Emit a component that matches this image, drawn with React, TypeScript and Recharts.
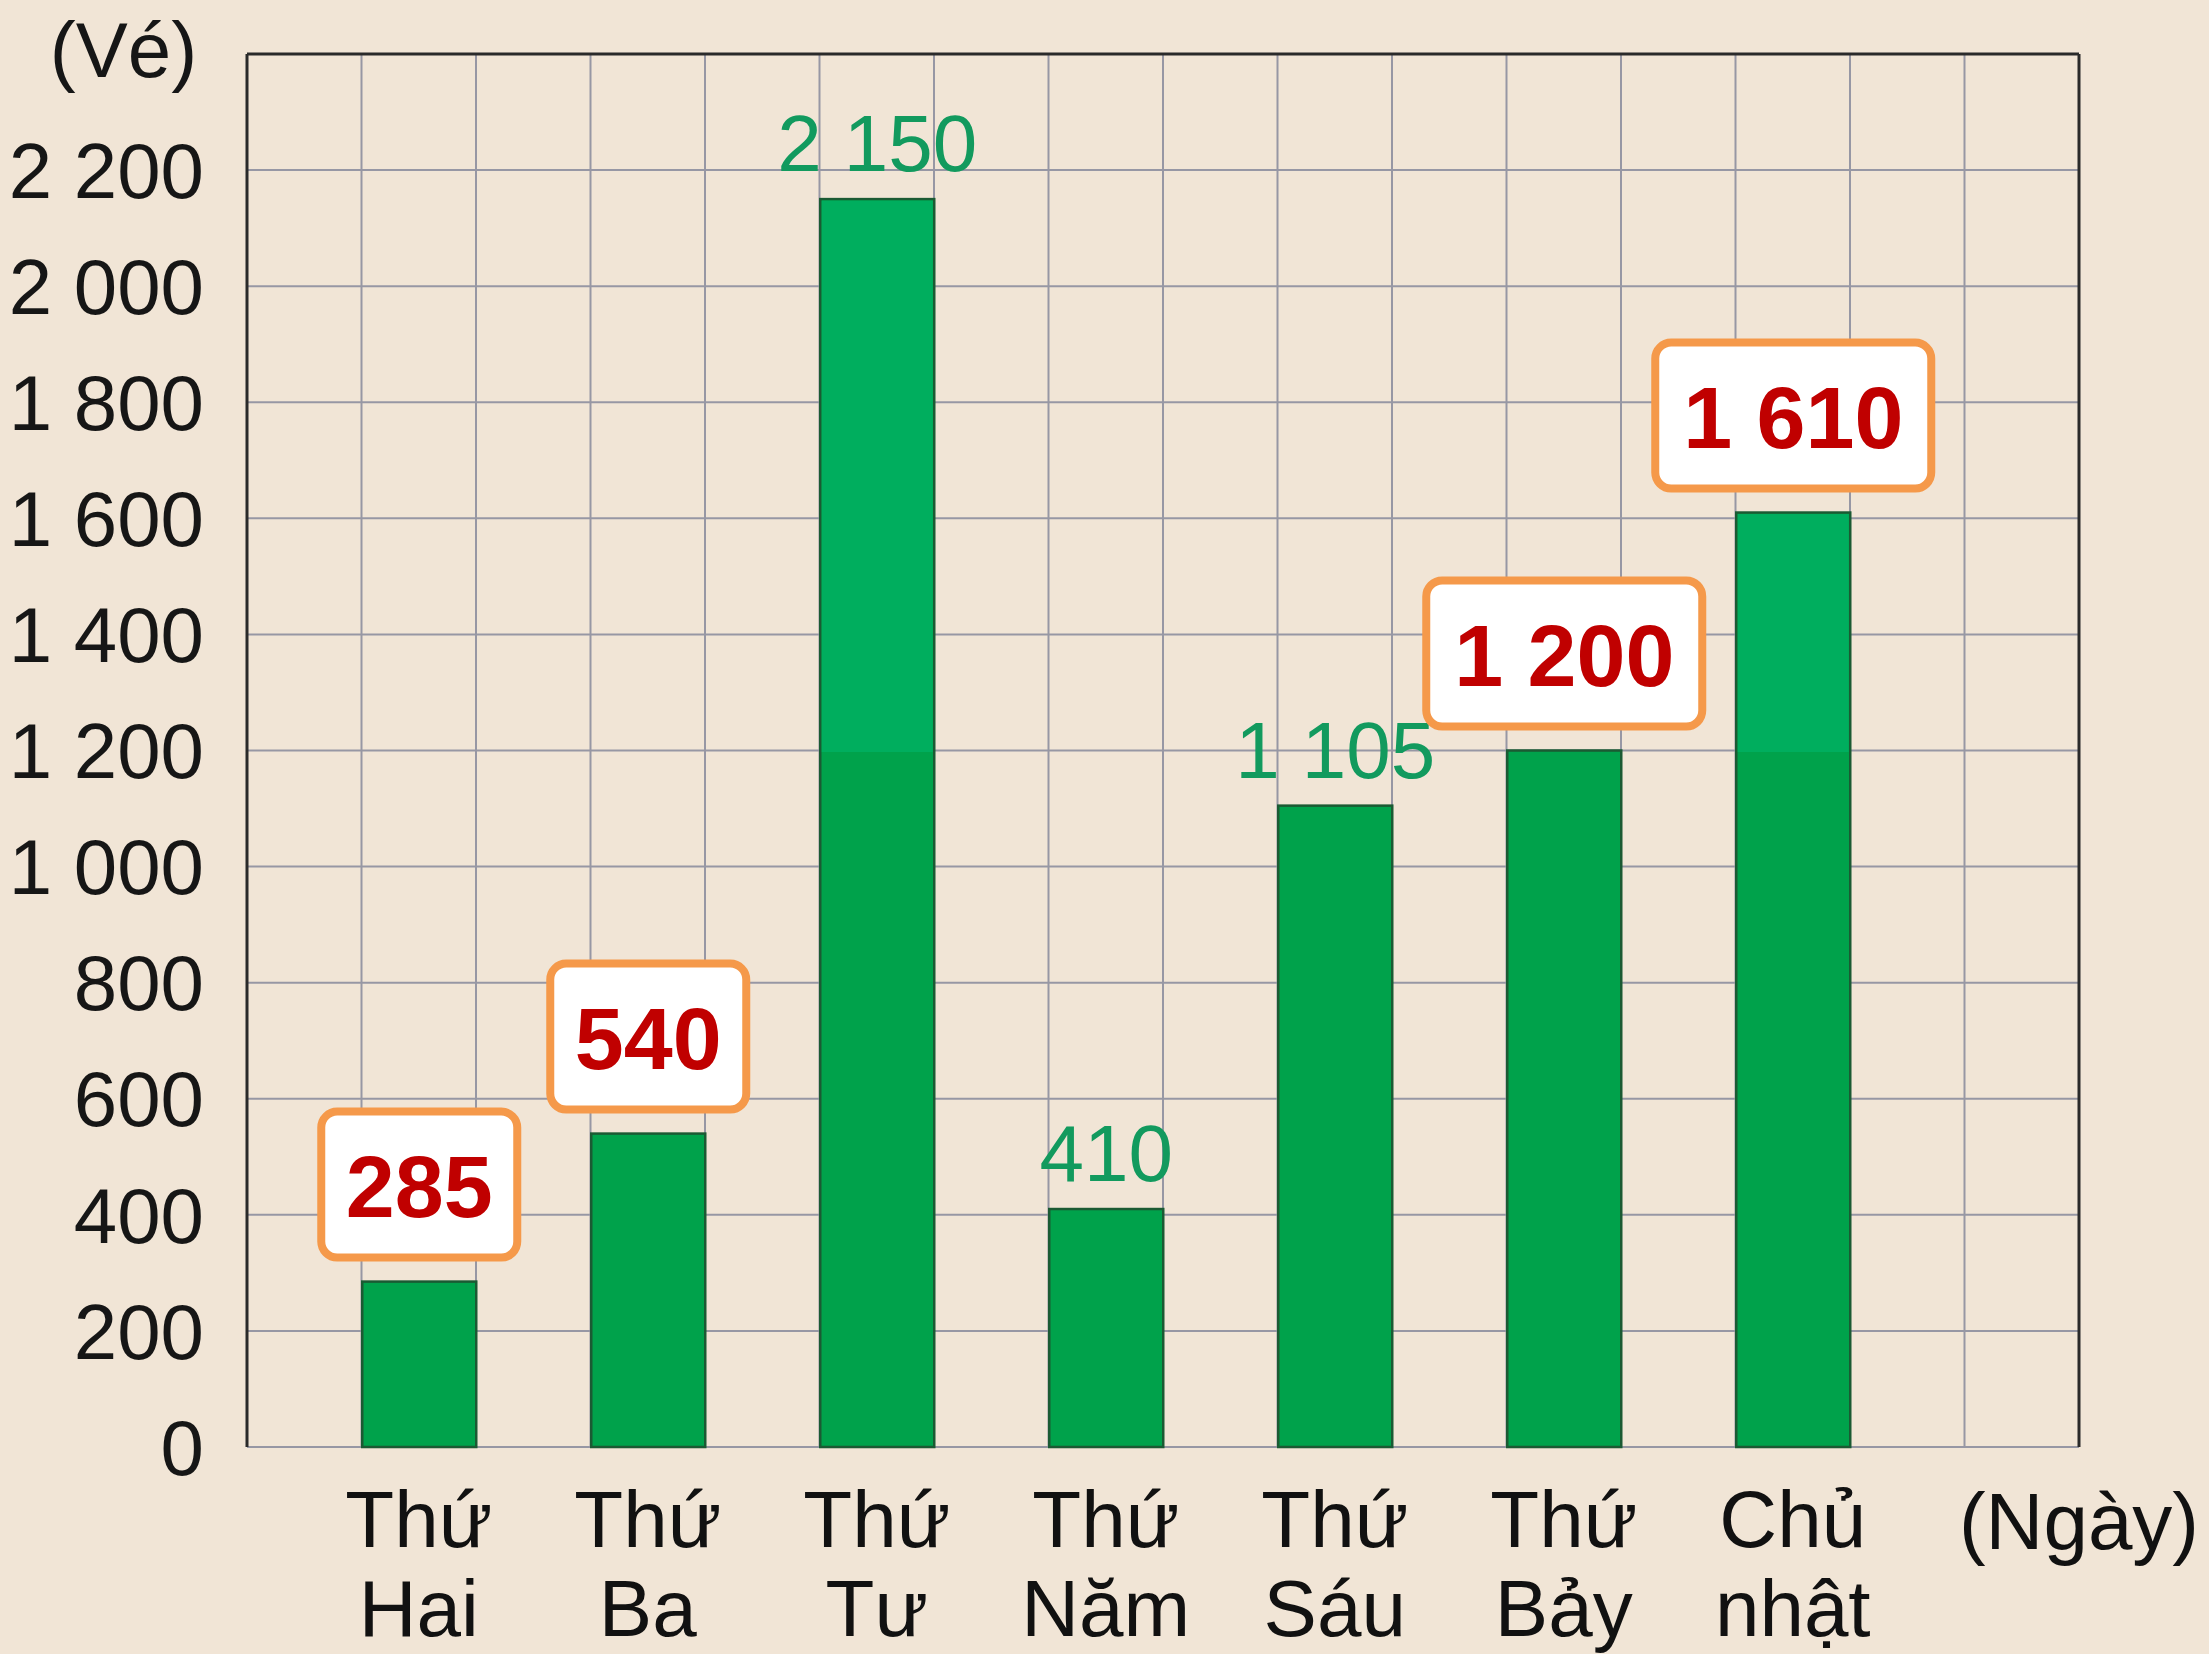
import React from "react";
import {
  BarChart,
  Bar,
  XAxis,
  YAxis,
  CartesianGrid,
  ReferenceLine,
  LabelList,
} from "recharts";

const FONT = "'Liberation Sans', Arial, sans-serif";

// days split over two lines, as printed under the axis
const dayLine1 = ["Thứ", "Thứ", "Thứ", "Thứ", "Thứ", "Thứ", "Chủ"];
const dayLine2 = ["Hai", "Ba", "Tư", "Năm", "Sáu", "Bảy", "nhật"];
const tickets = [285, 540, 2150, 410, 1105, 1200, 1610];
// which values sit in the white/orange callout boxes
const boxed = [true, true, false, false, false, true, true];

const yTicks = [0, 200, 400, 600, 800, 1000, 1200, 1400, 1600, 1800, 2000, 2200];
const gridTicks = [0, 1, 2, 3, 4, 5, 6, 7, 8, 9, 10, 11, 12, 13, 14, 15, 16];
const labelTicks = [1.5, 3.5, 5.5, 7.5, 9.5, 11.5, 13.5, 16];
const SHADE_FROM = 1200; // bars are a lighter green above this value

// each day takes two grid columns, the bar fills the right one
const rows = tickets.map((v, i) => ({ pos: 2 * i + 1.5, value: v }));

const fmt = (v: number) =>
  v >= 1000 ? `${Math.floor(v / 1000)} ${String(v % 1000).padStart(3, "0")}` : String(v);

const SplitBar = (props: any) => {
  const { x, y, width, height, value } = props;
  const v = Array.isArray(value) ? value[1] : value;
  const top = v > SHADE_FROM ? (height * (v - SHADE_FROM)) / v : 0;
  return (
    <g>
      <rect x={x} y={y} width={width} height={height} fill="#00A24B" stroke="#1b5a33" strokeWidth={2.5} />
      {top > 0 && <rect x={x + 1.5} y={y + 1.5} width={width - 3} height={top} fill="#00AE5E" />}
    </g>
  );
};

const ValueLabel = (props: any) => {
  const { x, y, width, value, index } = props;
  const cx = x + width / 2;
  const text = fmt(value);
  if (boxed[index]) {
    const bw = text.length > 3 ? 276 : 196;
    const bh = 146;
    const bottom = y - 24;
    return (
      <g>
        <rect
          x={cx - bw / 2}
          y={bottom - bh}
          width={bw}
          height={bh}
          rx={16}
          fill="#ffffff"
          stroke="#F5994A"
          strokeWidth={8}
        />
        <text
          x={cx}
          y={bottom - bh / 2 + 32}
          textAnchor="middle"
          fontSize={88}
          fontWeight={700}
          fill="#C00000"
          fontFamily={FONT}
        >
          {text}
        </text>
      </g>
    );
  }
  return (
    <text x={cx} y={y - 28} textAnchor="middle" fontSize={80} fill="#129A5E" fontFamily={FONT}>
      {text}
    </text>
  );
};

const DayTick = (props: any) => {
  const { x, y, payload } = props;
  if (payload.value === 16) {
    return (
      <text x={x} y={y + 100} textAnchor="middle" fontSize={80} fill="#111" fontFamily={FONT}>
        (Ngày)
      </text>
    );
  }
  const i = Math.round((payload.value - 1.5) / 2);
  return (
    <text x={x} textAnchor="middle" fontSize={80} fill="#111" fontFamily={FONT}>
      <tspan x={x} y={y + 98}>{dayLine1[i]}</tspan>
      <tspan x={x} y={y + 187}>{dayLine2[i]}</tspan>
    </text>
  );
};

const NoTick = () => <g />;

export default function App() {
  const frame = { stroke: "#2a2a2a", strokeWidth: 3 };
  return (
    <div
      style={{
        position: "fixed",
        left: 0,
        top: 0,
        width: 2209,
        height: 1654,
        background: "#F1E5D6",
        fontFamily: FONT,
      }}
    >
      <BarChart
        width={2209}
        height={1654}
        data={rows}
        margin={{ top: 54, right: 130, left: 0, bottom: 0 }}
      >
        <CartesianGrid stroke="#9797a4" strokeWidth={2} verticalValues={gridTicks} />
        <XAxis
          type="number"
          dataKey="pos"
          domain={[0, 16]}
          ticks={gridTicks}
          interval={0}
          tick={<NoTick />}
          tickLine={false}
          height={0}
          axisLine={frame}
        />
        <XAxis
          xAxisId="lab"
          type="number"
          dataKey="pos"
          domain={[0, 16]}
          ticks={labelTicks}
          interval={0}
          tick={<DayTick />}
          tickLine={false}
          tickSize={0}
          axisLine={false}
          height={207}
        />
        <YAxis
          domain={[0, 2400]}
          ticks={yTicks}
          interval={0}
          width={247}
          tickSize={0}
          tickMargin={43}
          tickLine={false}
          axisLine={frame}
          tickFormatter={fmt}
          tick={{ fontSize: 78, fill: "#161616", fontFamily: FONT }}
          label={{ value: "(Vé)", position: "top", offset: -23, fontSize: 78, fill: "#161616", fontFamily: FONT }}
        />
        <ReferenceLine y={2400} {...frame} />
        <ReferenceLine x={16} {...frame} />
        <Bar dataKey="value" barSize={114} shape={<SplitBar />} isAnimationActive={false}>
          <LabelList dataKey="value" content={<ValueLabel />} />
        </Bar>
      </BarChart>
    </div>
  );
}
